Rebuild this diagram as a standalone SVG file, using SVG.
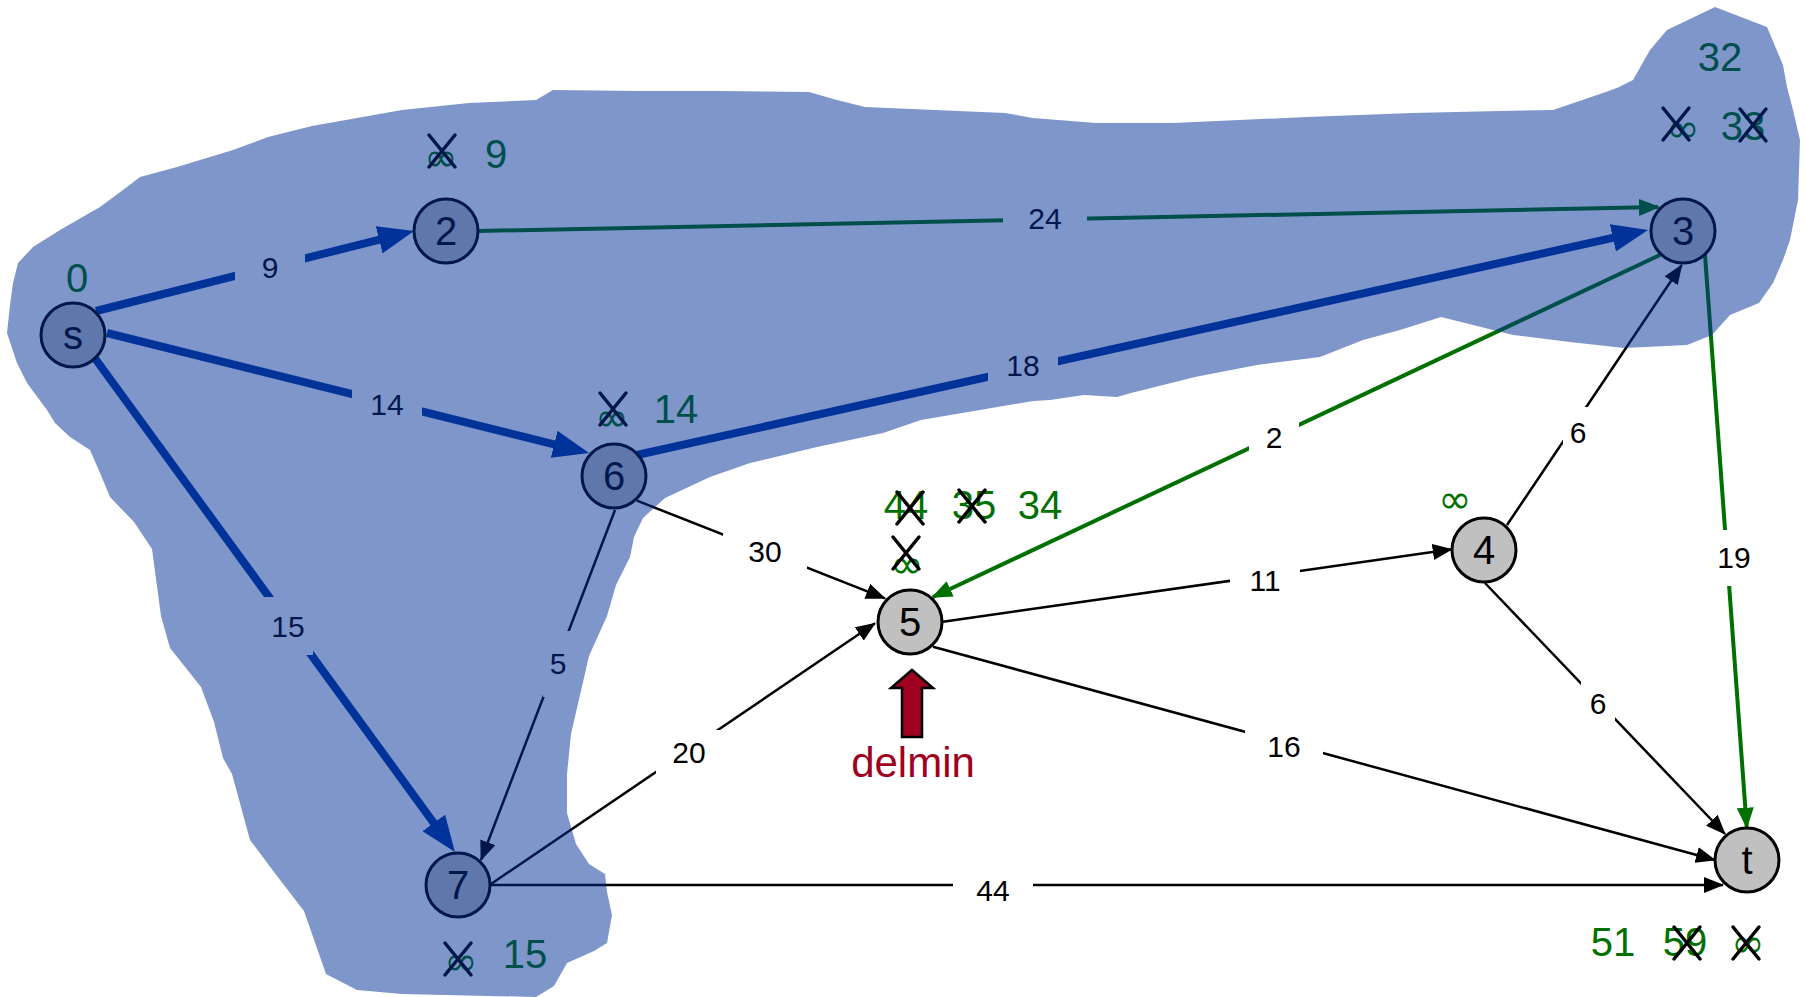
<svg xmlns="http://www.w3.org/2000/svg" xmlns:xlink="http://www.w3.org/1999/xlink" width="1806" height="997" viewBox="0 0 1806 997">
<style>
.n circle{fill:#c0c0c0;stroke:#000;stroke-width:3}
.n text.id{font-family:"Liberation Sans",Arial,sans-serif;font-size:40px;text-anchor:middle;fill:#000}
.d{font-family:"Liberation Sans",Arial,sans-serif;font-size:40px;fill:#007000;text-anchor:middle}
.inf{font-family:"DejaVu Sans",sans-serif;font-size:40px;fill:#007000;text-anchor:middle}
.x{stroke:#000;stroke-width:3.5;fill:none;stroke-linecap:round}
.thin{stroke:#000;stroke-width:2.5;fill:none;marker-end:url(#ah)}
.green{stroke:#007000;stroke-width:4;fill:none;marker-end:url(#ag)}
.thick{stroke:#00399d;stroke-width:8;fill:none;marker-end:url(#ab)}
.lb rect{fill:#fff}
.lb text{font-family:"Liberation Sans",Arial,sans-serif;font-size:30px;text-anchor:middle;fill:#000}
.blob{fill:#002d95;fill-opacity:0.5}
</style>
<defs>
<marker id="ah" markerUnits="userSpaceOnUse" viewBox="0 0 20 16" markerWidth="20" markerHeight="16" refX="19" refY="8" orient="auto"><path d="M0,0 L20,8 L0,16 z" fill="#000"/></marker>
<marker id="ag" markerUnits="userSpaceOnUse" viewBox="0 0 21 17" markerWidth="21" markerHeight="17" refX="19" refY="8.5" orient="auto"><path d="M0,0 L21,8.5 L0,17 z" fill="#007000"/></marker>
<marker id="ab" markerUnits="userSpaceOnUse" viewBox="0 0 36 28" markerWidth="36" markerHeight="28" refX="24" refY="14" orient="auto"><path d="M0,0 L36,14 L0,28 z" fill="#00399d"/></marker>
<path id="X" d="M-13,-16 L13,16 M13,-16 L-13,16"/>
</defs>
<rect x="0" y="0" width="1806" height="997" fill="#fff"/>

<g id="connectors">
  <line class="thick" x1="96" y1="311" x2="402.4" y2="233.9"/>
  <line class="thick" x1="107" y1="333" x2="577.4" y2="450.1"/>
  <line class="thick" x1="94" y1="357" x2="447.9" y2="842.3"/>
  <line class="thick" x1="637" y1="455" x2="1636.3" y2="232.6"/>
  <line class="green" x1="478" y1="231" x2="1658" y2="207"/>
  <line class="green" x1="1660" y1="255" x2="933" y2="597"/>
  <line class="green" x1="1705" y1="255" x2="1746.7" y2="826.7"/>
  <line class="thin" x1="1507" y1="525" x2="1681.7" y2="265"/>
  <line class="thin" x1="637" y1="500.7" x2="885" y2="598.3"/>
  <line class="thin" x1="615" y1="510" x2="481" y2="860"/>
  <line class="thin" x1="491" y1="884" x2="875" y2="623.3"/>
  <line class="thin" x1="491" y1="885" x2="1723" y2="885"/>
  <line class="thin" x1="943" y1="621.7" x2="1451.7" y2="549.3"/>
  <line class="thin" x1="933" y1="646.7" x2="1715" y2="860"/>
  <line class="thin" x1="1485" y1="583" x2="1725" y2="834"/>
  <g class="lb">
    <rect x="235" y="249" width="70" height="36"/><text x="270" y="278">9</text>
    <rect x="1003" y="200" width="84" height="36"/><text x="1045" y="229">24</text>
    <rect x="352" y="386" width="70" height="36"/><text x="387" y="415">14</text>
    <rect x="988" y="347" width="70" height="38"/><text x="1023" y="376">18</text>
    <rect x="263" y="597" width="50" height="58"/><text x="288" y="637">15</text>
    <rect x="543" y="631" width="30" height="66"/><text x="558" y="674">5</text>
    <rect x="723" y="531" width="84" height="40"/><text x="765" y="562">30</text>
    <rect x="1249" y="416" width="50" height="44"/><text x="1274" y="448">2</text>
    <rect x="1563" y="407" width="30" height="50"/><text x="1578" y="443">6</text>
    <rect x="1230" y="562" width="70" height="36"/><text x="1265" y="591">11</text>
    <rect x="1711" y="530" width="46" height="56"/><text x="1734" y="568">19</text>
    <rect x="1581" y="680" width="34" height="46"/><text x="1598" y="714">6</text>
    <rect x="656" y="730" width="66" height="44"/><text x="689" y="763">20</text>
    <rect x="1245" y="727" width="78" height="38"/><text x="1284" y="757">16</text>
    <rect x="953" y="872" width="80" height="36"/><text x="993" y="901">44</text>
  </g>
</g>

<g id="node-s" class="n">
  <circle cx="73" cy="335" r="32"/><text class="id" x="73" y="349">s</text>
  <text class="d" x="77" y="292">0</text>
</g>
<g id="node-2" class="n">
  <circle cx="446" cy="231" r="32"/><text class="id" x="446" y="245">2</text>
  <text class="inf" x="441" y="171">∞</text>
  <use xlink:href="#X" class="x" x="442" y="151"/>
  <text class="d" x="496" y="168">9</text>
</g>
<g id="node-6" class="n">
  <circle cx="614" cy="476" r="32"/><text class="id" x="614" y="490">6</text>
  <text class="inf" x="612" y="431">∞</text>
  <use xlink:href="#X" class="x" x="613" y="409"/>
  <text class="d" x="676" y="423">14</text>
</g>
<g id="node-7" class="n">
  <circle cx="458" cy="885" r="32"/><text class="id" x="458" y="899">7</text>
  <text class="inf" x="461" y="975">∞</text>
  <use xlink:href="#X" class="x" x="458" y="959"/>
  <text class="d" x="525" y="968">15</text>
</g>
<g id="node-3" class="n">
  <circle cx="1683" cy="231" r="32"/><text class="id" x="1683" y="245">3</text>
  <text class="d" x="1720" y="71">32</text>
  <text class="inf" x="1683" y="142">∞</text>
  <use xlink:href="#X" class="x" x="1676" y="124"/>
  <text class="d" x="1743" y="140">33</text>
  <use xlink:href="#X" class="x" x="1753" y="125"/>
</g>
<g id="node-5" class="n">
  <circle cx="910" cy="622" r="32"/><text class="id" x="910" y="636">5</text>
  <text class="d" x="906" y="519">44</text>
  <use xlink:href="#X" class="x" x="910" y="508"/>
  <text class="d" x="974" y="519">35</text>
  <use xlink:href="#X" class="x" x="972" y="506"/>
  <text class="d" x="1040" y="519">34</text>
  <text class="inf" x="907" y="578">∞</text>
  <use xlink:href="#X" class="x" x="906" y="553"/>
</g>
<g id="node-4" class="n">
  <circle cx="1484" cy="550" r="32"/><text class="id" x="1484" y="564">4</text>
  <text class="inf" x="1455" y="513">∞</text>
</g>
<g id="node-t" class="n">
  <circle cx="1747" cy="860" r="32"/><text class="id" x="1747" y="874">t</text>
  <text class="d" x="1613" y="956">51</text>
  <text class="d" x="1685" y="956">59</text>
  <use xlink:href="#X" class="x" x="1687" y="943"/>
  <text class="inf" x="1748" y="957">∞</text>
  <use xlink:href="#X" class="x" x="1746" y="943"/>
</g>

<path id="region" class="blob" stroke-linejoin="round" d="M7,333 L10,305 L13,283 L18,263 L33,247 L60,230 L100,207 L127,187 L140,177 L177,167 L233,150 L268,137 L312,126 L402,110 L469,103 L536,100 L553,90 L640,91 L720,91 L809,92 L837,100 L865,107 L1005,113 L1033,118 L1096,123 L1173,123 L1307,117 L1412,113 L1500,111 L1553,110 L1600,94 L1617,88 L1633,80 L1650,50 L1667,30 L1715,7 L1767,27 L1783,65 L1787,87 L1793,110 L1800,140 L1798,200 L1790,240 L1783,260 L1773,283 L1759,303 L1730,315 L1712,335 L1687,345 L1624,348 L1570,342 L1513,335 L1441,317 L1400,330 L1363,340 L1320,357 L1257,365 L1195,377 L1131,393 L1117,397 L1084,395 L1050,400 L1033,401 L921,420 L883,433 L817,447 L750,463 L710,477 L665,498 L643,518 L634,537 L630,557 L616,585 L607,616 L589,656 L580,695 L571,734 L567,774 L567,813 L576,844 L589,864 L605,874 L607,892 L612,915 L607,943 L594,951 L567,963 L554,986 L536,997 L402,994 L357,990 L326,974 L304,911 L277,876 L250,840 L232,774 L223,758 L214,722 L201,687 L170,648 L161,616 L152,549 L134,522 L110,497 L100,473 L90,450 L70,437 L55,423 L47,410 L27,383 L17,363 Z"/>

<g id="delmin">
  <polygon points="912,670 933,688 922,688 922,737 902,737 902,688 891,688" fill="#a00020" stroke="#000" stroke-width="2.5" stroke-linejoin="miter"/>
  <text x="913" y="777" font-family="Liberation Sans, Arial, sans-serif" font-size="42" fill="#a00020" text-anchor="middle">delmin</text>
</g>
</svg>
